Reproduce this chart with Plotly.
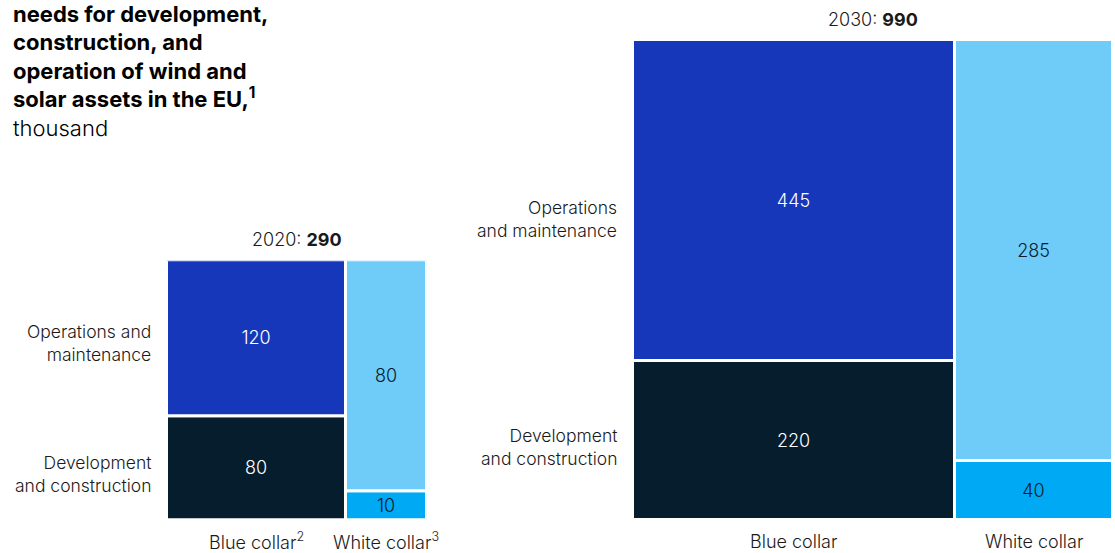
import plotly.graph_objects as go

# Workforce needs, thousand
years = ["2020", "2030"]
totals = [290, 990]
collars = ["Blue collar", "White collar"]
collar_labels = {
    "2020": ["Blue collar<sup>2</sup>", "White collar<sup>3</sup>"],
    "2030": ["Blue collar", "White collar"],
}
om_values = {"2020": [120, 80], "2030": [445, 285]}   # Operations and maintenance
dc_values = {"2020": [80, 10], "2030": [220, 40]}     # Development and construction
row_labels = {
    "2020": ["Operations and<br>maintenance", "Development<br>and construction"],
    "2030": ["Operations<br>and maintenance", "Development<br>and construction"],
}
# vertical nudges (px) for the row labels
row_shift = {"2020": [-5, -6], "2030": [-18, -6]}

om_colors = ["#1637BA", "#6FCBF7"]
dc_colors = ["#061D2E", "#00A9F4"]
om_text = ["white", "#061D2E"]
dc_text = ["white", "#061D2E"]

W, H = 1115, 553
FONT = "Inter"
TXT = "#1a1a1a"
LIGHT = 300

# Panel frames in pixels: (left, top); side grows with sqrt(total)
big_side = 480
panels = {
    "2020": (167, 520 - big_side * (totals[0] / totals[1]) ** 0.5),
    "2030": (633, 40),
}


def px(x):
    return x / W


def py(y):
    return 1 - y / H


fig = go.Figure()
layout_axes = {}
annotations = []

for i, yr in enumerate(years):
    total = totals[i]
    om = om_values[yr]
    dc = dc_values[yr]
    col_tot = [a + b for a, b in zip(om, dc)]
    widths = [c / total for c in col_tot]
    lefts = [sum(widths[:k]) for k in range(len(widths))]
    centers = [l + w / 2 for l, w in zip(lefts, widths)]
    dc_h = [d / c for d, c in zip(dc, col_tot)]
    om_h = [o / c for o, c in zip(om, col_tot)]

    left, top = panels[yr]
    side = 520 - top
    xa = "x" if i == 0 else "x2"
    ya = "y" if i == 0 else "y2"

    fig.add_trace(go.Bar(
        x=centers, y=dc_h, base=[0, 0], width=widths,
        marker=dict(color=dc_colors, line=dict(color="white", width=3)),
        text=[str(v) for v in dc], textposition="inside",
        insidetextanchor="middle", constraintext="none", textangle=0,
        textfont=dict(color=dc_text, size=18, family=FONT, weight=LIGHT),
        xaxis=xa, yaxis=ya, showlegend=False, hoverinfo="skip",
    ))
    fig.add_trace(go.Bar(
        x=centers, y=om_h, base=dc_h, width=widths,
        marker=dict(color=om_colors, line=dict(color="white", width=3)),
        text=[str(v) for v in om], textposition="inside",
        insidetextanchor="middle", constraintext="none", textangle=0,
        textfont=dict(color=om_text, size=18, family=FONT, weight=LIGHT),
        xaxis=xa, yaxis=ya, showlegend=False, hoverinfo="skip",
    ))

    suffix = "" if i == 0 else "2"
    layout_axes["xaxis" + suffix] = dict(
        domain=[px(left), px(left + side)], range=[0, 1], visible=False,
        fixedrange=True, anchor=ya,
    )
    layout_axes["yaxis" + suffix] = dict(
        domain=[py(520), py(top)], range=[0, 1], visible=False,
        fixedrange=True, anchor=xa,
    )

    # Year header
    annotations.append(dict(
        xref=xa + " domain", yref="paper", x=0.5, y=py(top - 8),
        text=f"{yr}: <b>{total}</b>", showarrow=False,
        xanchor="center", yanchor="bottom",
        font=dict(size=18, family=FONT, color=TXT, weight=LIGHT),
    ))
    # Column labels
    for c, lab in enumerate(collar_labels[yr]):
        annotations.append(dict(
            xref=xa, yref="paper", x=centers[c], y=py(541),
            text=lab, showarrow=False, xanchor="center", yanchor="middle",
            font=dict(size=18, family=FONT, color=TXT, weight=LIGHT),
        ))
    # Row labels, placed beside the blue-collar column segments
    om_mid = dc_h[0] + om_h[0] / 2
    dc_mid = dc_h[0] / 2
    for lab, yv, sh in zip(row_labels[yr], [om_mid, dc_mid], row_shift[yr]):
        annotations.append(dict(
            xref="paper", yref=ya, x=px(left - 14), y=yv, yshift=sh,
            text=lab, showarrow=False, xanchor="right", yanchor="middle",
            align="right",
            font=dict(size=17.5, family=FONT, color=TXT, weight=LIGHT),
        ))

# Title block
annotations.append(dict(
    xref="paper", yref="paper", x=px(11), y=py(-30),
    text=("<b>Estimated employment<br>needs for development,<br>construction, and<br>"
          "operation of wind and<br>solar assets in the EU,<sup>1</sup></b><br>thousand"),
    showarrow=False, xanchor="left", yanchor="top", align="left",
    font=dict(size=22, family=FONT, color="#000000", weight=LIGHT),
))

fig.update_layout(
    width=W, height=H,
    margin=dict(l=0, r=0, t=0, b=0),
    paper_bgcolor="white", plot_bgcolor="white",
    barmode="overlay", bargap=0,
    annotations=annotations,
    **layout_axes,
)

fig.write_html("out.html")
